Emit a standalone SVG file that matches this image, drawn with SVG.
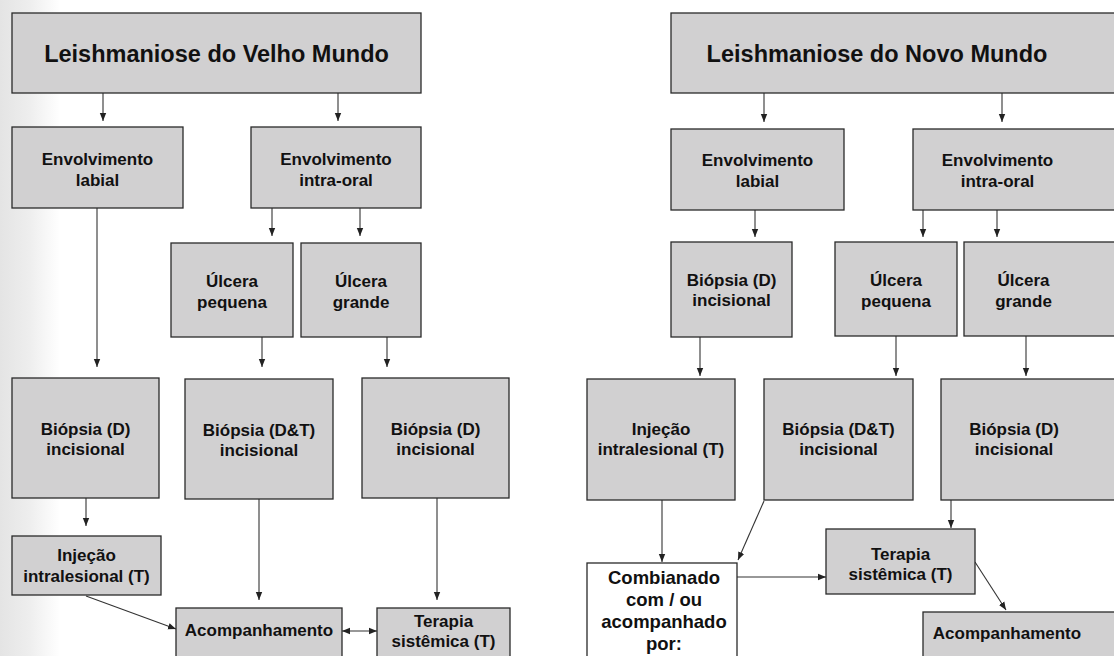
<svg xmlns="http://www.w3.org/2000/svg" width="1114" height="656" viewBox="0 0 1114 656">
<defs>
<linearGradient id="bg" x1="0" y1="0" x2="1" y2="0">
<stop offset="0" stop-color="#e4e4e4"/>
<stop offset="0.5" stop-color="#eeeeee"/>
<stop offset="1" stop-color="#ffffff"/>
</linearGradient>
<marker id="ah" markerWidth="8" markerHeight="8" viewBox="0 0 8 8" refX="8" refY="4" orient="auto" markerUnits="userSpaceOnUse">
<path d="M0,0.8 L8,4 L0,7.2 Z" fill="#222"/>
</marker>
<marker id="ahs" markerWidth="8" markerHeight="8" viewBox="0 0 8 8" refX="0" refY="4" orient="auto" markerUnits="userSpaceOnUse">
<path d="M8,0.8 L0,4 L8,7.2 Z" fill="#222"/>
</marker>
<style>
.b{fill:#d1d0d1;stroke:#2a2a2a;stroke-width:1.3}
.w{fill:#ffffff;stroke:#2a2a2a;stroke-width:1.3}
.t{font-family:"Liberation Sans",Arial,sans-serif;font-weight:bold;font-size:17px;fill:#111;text-anchor:middle}
.h{font-size:23.5px}
.c{font-size:18.5px}
.k line{stroke:#333;stroke-width:1.1;marker-end:url(#ah)}
</style>
</defs>
<rect x="0" y="0" width="1114" height="656" fill="#ffffff"/>
<rect x="0" y="0" width="60" height="656" fill="url(#bg)"/>

<g id="connectors" class="k">
<line x1="103" y1="93" x2="103" y2="121"/>
<line x1="338" y1="93" x2="338" y2="121"/>
<line x1="272" y1="208" x2="272" y2="236"/>
<line x1="360" y1="208" x2="360" y2="236"/>
<line x1="97" y1="208" x2="97" y2="367"/>
<line x1="262" y1="337" x2="262" y2="367"/>
<line x1="387" y1="337" x2="387" y2="367"/>
<line x1="86" y1="498" x2="86" y2="526"/>
<line x1="259" y1="499" x2="259" y2="600"/>
<line x1="437" y1="498" x2="437" y2="600"/>
<line x1="86" y1="596" x2="176" y2="629"/>
<line x1="342" y1="631" x2="377" y2="631" style="marker-start:url(#ahs)"/>
<line x1="764" y1="93" x2="764" y2="122"/>
<line x1="1002" y1="93" x2="1002" y2="122"/>
<line x1="755" y1="210" x2="755" y2="237"/>
<line x1="923" y1="210" x2="923" y2="237"/>
<line x1="997" y1="210" x2="997" y2="237"/>
<line x1="700" y1="337" x2="700" y2="376"/>
<line x1="896" y1="336" x2="896" y2="376"/>
<line x1="1026" y1="336" x2="1026" y2="376"/>
<line x1="662" y1="500" x2="662" y2="562"/>
<line x1="764" y1="501" x2="738" y2="560"/>
<line x1="951" y1="500" x2="951" y2="528"/>
<line x1="737" y1="577" x2="826" y2="577"/>
<line x1="975" y1="562" x2="1006" y2="610"/>
</g>

<g id="l-title"><rect class="b" x="12" y="13" width="409" height="80"/><text class="t h" x="216.5" y="62">Leishmaniose do Velho Mundo</text></g>
<g id="l-labial"><rect class="b" x="12" y="127" width="171" height="81"/><text class="t" x="97.5" y="165">Envolvimento</text><text class="t" x="97.5" y="186">labial</text></g>
<g id="l-intraoral"><rect class="b" x="251" y="127" width="170" height="81"/><text class="t" x="336" y="165">Envolvimento</text><text class="t" x="336" y="186">intra-oral</text></g>
<g id="l-pequena"><rect class="b" x="171" y="243" width="122" height="94"/><text class="t" x="232" y="287">Úlcera</text><text class="t" x="232" y="308">pequena</text></g>
<g id="l-grande"><rect class="b" x="301" y="243" width="120" height="94"/><text class="t" x="361" y="287">Úlcera</text><text class="t" x="361" y="308">grande</text></g>
<g id="l-biopsia-d1"><rect class="b" x="12" y="378" width="147" height="120"/><text class="t" x="85.5" y="435">Biópsia (D)</text><text class="t" x="85.5" y="455">incisional</text></g>
<g id="l-biopsia-dt"><rect class="b" x="185" y="379" width="148" height="120"/><text class="t" x="259" y="436">Biópsia (D&amp;T)</text><text class="t" x="259" y="456">incisional</text></g>
<g id="l-biopsia-d2"><rect class="b" x="362" y="378" width="147" height="120"/><text class="t" x="435.5" y="435">Biópsia (D)</text><text class="t" x="435.5" y="455">incisional</text></g>
<g id="l-injecao"><rect class="b" x="12" y="536" width="149" height="59"/><text class="t" x="86.5" y="561">Injeção</text><text class="t" x="86.5" y="582">intralesional (T)</text></g>
<g id="l-acomp"><rect class="b" x="176" y="608" width="166" height="52"/><text class="t" x="259" y="636">Acompanhamento</text></g>
<g id="l-terapia"><rect class="b" x="377" y="608" width="133" height="52"/><text class="t" x="443.5" y="627">Terapia</text><text class="t" x="443.5" y="647">sistêmica (T)</text></g>

<g id="r-title"><rect class="b" x="671" y="13" width="460" height="80"/><text class="t h" x="877" y="62">Leishmaniose do Novo Mundo</text></g>
<g id="r-labial"><rect class="b" x="671" y="129" width="173" height="81"/><text class="t" x="757.5" y="166">Envolvimento</text><text class="t" x="757.5" y="187">labial</text></g>
<g id="r-intraoral"><rect class="b" x="913" y="129" width="220" height="81"/><text class="t" x="997.5" y="166">Envolvimento</text><text class="t" x="997.5" y="187">intra-oral</text></g>
<g id="r-biopsia-d1"><rect class="b" x="671" y="242" width="121" height="95"/><text class="t" x="731.5" y="286">Biópsia (D)</text><text class="t" x="731.5" y="306">incisional</text></g>
<g id="r-pequena"><rect class="b" x="835" y="242" width="122" height="94"/><text class="t" x="896" y="286">Úlcera</text><text class="t" x="896" y="307">pequena</text></g>
<g id="r-grande"><rect class="b" x="964" y="242" width="170" height="94"/><text class="t" x="1023.5" y="286">Úlcera</text><text class="t" x="1023.5" y="307">grande</text></g>
<g id="r-injecao"><rect class="b" x="587" y="379" width="148" height="121"/><text class="t" x="661" y="435">Injeção</text><text class="t" x="661" y="455">intralesional (T)</text></g>
<g id="r-biopsia-dt"><rect class="b" x="764" y="379" width="149" height="121"/><text class="t" x="838.5" y="435">Biópsia (D&amp;T)</text><text class="t" x="838.5" y="455">incisional</text></g>
<g id="r-biopsia-d2"><rect class="b" x="941" y="379" width="190" height="121"/><text class="t" x="1014" y="435">Biópsia (D)</text><text class="t" x="1014" y="455">incisional</text></g>
<g id="r-combinado"><rect class="w" x="587" y="563" width="150" height="100"/><text class="t c" x="664" y="584">Combianado</text><text class="t c" x="664" y="606">com / ou</text><text class="t c" x="664" y="628">acompanhado</text><text class="t c" x="664" y="650">por:</text></g>
<g id="r-terapia"><rect class="b" x="826" y="529" width="149" height="65"/><text class="t" x="900.5" y="560">Terapia</text><text class="t" x="900.5" y="580">sistêmica (T)</text></g>
<g id="r-acomp"><rect class="b" x="923" y="612" width="210" height="50"/><text class="t" x="1007" y="639">Acompanhamento</text></g>
</svg>
